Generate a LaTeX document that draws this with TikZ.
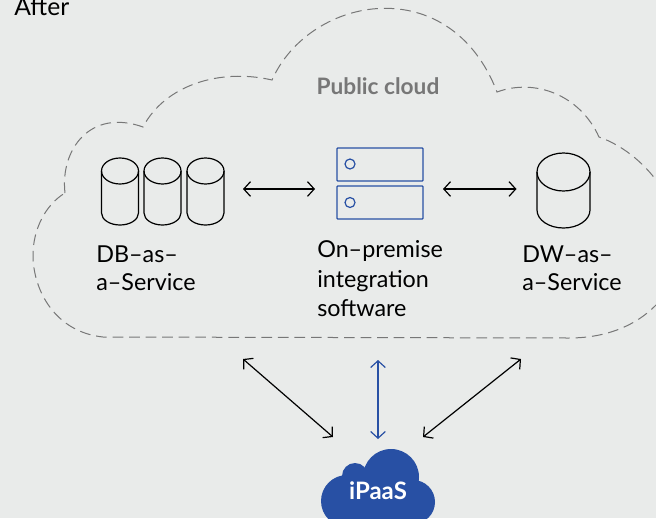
\documentclass[tikz,border=0pt]{standalone}
\usepackage{fontspec}
\setmainfont{Lato}
\usetikzlibrary{arrows.meta,calc}
\definecolor{bgcol}{HTML}{E9EBEA}
\definecolor{ipblue}{HTML}{2850A4}
\definecolor{cloudgrey}{HTML}{777777}
\tikzstyle{can}=[draw=black,line width=0.9pt]
\tikzstyle{srvbox}=[draw=ipblue,line width=0.9pt,rounded corners=0.6pt,minimum width=64.5pt,minimum height=24.75pt,inner sep=0pt]
\tikzstyle{srvled}=[circle,draw=ipblue,line width=0.9pt,minimum size=7.5pt,inner sep=0pt]
\tikzstyle{label}=[font=\fontsize{17.5}{21}\selectfont,align=left,anchor=north west,inner sep=0pt]
\tikzstyle{link}=[draw,line width=0.9pt,{Straight Barb[length=5pt,width=11pt]}-{Straight Barb[length=5pt,width=11pt]}]

\begin{document}
\begin{tikzpicture}[x=0.75pt,y=-0.75pt]
	\useasboundingbox (0,0) rectangle (656,518);
	\clip (0,0) rectangle (656,518);
	\fill[bgcol] (0,0) rectangle (656,518);
	\node[anchor=base west,inner sep=0pt,font=\fontsize{18.5}{21}\selectfont] (after) at (14,15) {After};
	% Public cloud outline
	\draw[cloudgrey,line width=0.75pt,dash pattern=on 8pt off 4.4pt]
		(65,193) .. controls (60,150) and (90,108) .. (143,127)
		.. controls (165,85) and (220,68) .. (272,80)
		.. controls (310,-5) and (450,-30) .. (497,92)
		.. controls (535,78) and (580,95) .. (599,137)
		.. controls (650,155) and (690,215) .. (680,265)
		.. controls (665,310) and (625,338) .. (569,338)
		-- (103,337)
		.. controls (55,332) and (33,290) .. (33,255)
		.. controls (33,230) and (45,205) .. (65,193);
	\node[font=\fontsize{17}{21}\selectfont\bfseries,text=cloudgrey,inner sep=0pt] (public) at (378,86) {Public cloud};
	% Databases and server
	\foreach \name/\x in {db1/120,db2/162.5,db3/205.5}{
		\coordinate (\name) at (\x,191);
		\path[can] ({\x-18.5},171) -- ({\x-18.5},213) arc (180:0:18.5 and 12) -- ({\x+18.5},171);
		\path[can] (\x,171) ellipse (18.5 and 13);
	}
	\coordinate (dw) at (563.5,190.5);
	\path[can] (537,172) -- (537,210) arc (180:0:26.5 and 18) -- (590,172);
	\path[can] (563.5,172) ellipse (26.5 and 19);
	\node[srvbox] (srva) at (380,164.5) {};
	\node[srvbox] (srvb) at (380,202.5) {};
	\node[srvled] (leda) at (350,164) {};
	\node[srvled] (ledb) at (350,202.5) {};
	\node[label] (dblabel) at (96,245.5) {DB–as–\\a–Service};
	\node[label] (srvlabel) at (317,240) {On–premise\\[2pt]integration\\[0.5pt]software};
	\node[label] (dwlabel) at (522,245.5) {DW–as–\\a–Service};
	% iPaaS cloud
	\fill[ipblue] (347,501) circle (26);
	\fill[ipblue] (355,476) circle (13);
	\fill[ipblue] (391,477) circle (28);
	\fill[ipblue] (413,502) circle (22);
	\fill[ipblue] (347,490) rectangle (413,524);
	\node[text=white,font=\fontsize{18}{21}\selectfont\bfseries,inner sep=0pt] (ipaas) at (378,491) {iPaaS};
	% Connect the nodes
	\coordinate (publ) at (243,359);
	\coordinate (pubc) at (378,360);
	\coordinate (pubr) at (521,359);
	\path[link] ($(db3)+(37.5,-2)$) -- ($(srva)+(-65,24.5)$);
	\path[link] ($(srva)+(63,24.5)$) -- ($(dw)+(-47,-1.5)$);
	\path[link] (publ) -- ($(ipaas)+(-45,-54)$);
	\path[link,draw=ipblue] (pubc) -- ($(ipaas)+(0,-52)$);
	\path[link] (pubr) -- ($(ipaas)+(45,-54)$);
\end{tikzpicture}
\end{document}
